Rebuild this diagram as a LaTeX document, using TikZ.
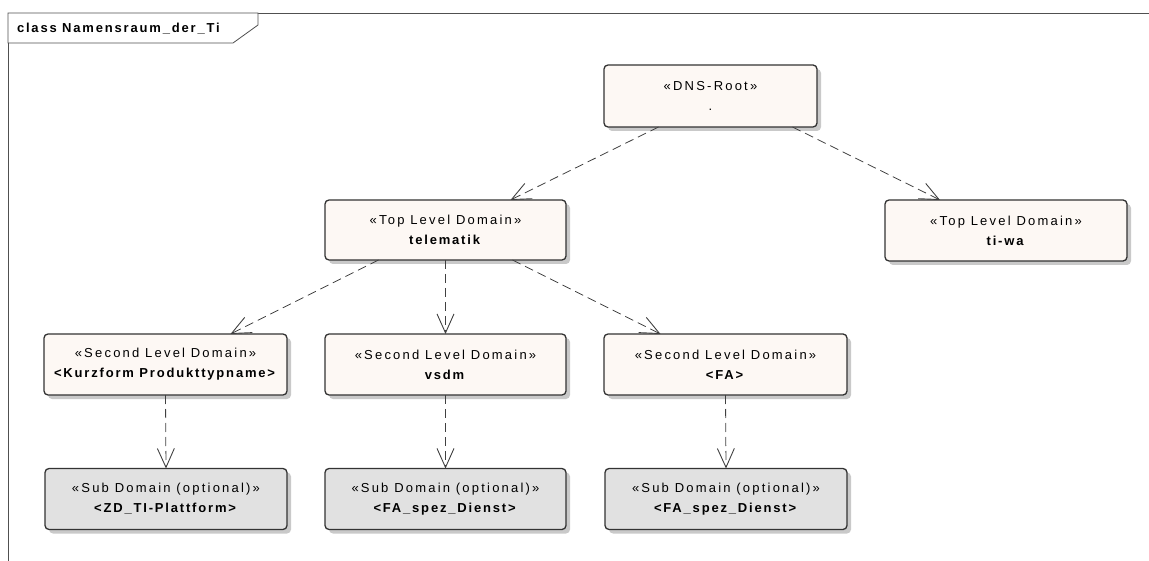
\documentclass[tikz,border=0pt]{standalone}
\usepackage{fontspec}
\newfontfamily\umlfont[LetterSpace=17,BoldFeatures={LetterSpace=14}]{Liberation Sans}
\usetikzlibrary{arrows.meta,shadows}
\definecolor{domfill}{HTML}{FDF8F4}
\definecolor{subfill}{HTML}{E1E1E1}
\definecolor{framegray}{HTML}{505050}
\begin{document}
\begin{tikzpicture}[x=1pt,y=-1pt,inner sep=0pt,outer sep=0pt,
domblock/.style={draw=black!80,fill=domfill,rectangle,rounded corners=4pt,line width=1.3pt,
  minimum width=242pt,minimum height=61pt,align=center,
  font=\fontsize{13}{20}\selectfont\umlfont,
  drop shadow={shadow xshift=4pt,shadow yshift=-4pt,fill=black!30,opacity=0.7}},
subblock/.style={domblock,fill=subfill},
dep/.style={draw=black!75,line width=0.8pt,dash pattern=on 9pt off 5pt,
  -{Straight Barb[length=19pt,width=17pt,line width=0.9pt]}}]
\useasboundingbox (0,0) rectangle (1149,561);
% frame
\draw[framegray,line width=0.8pt] (8,561) -- (8,13) -- (1149,13);
\draw[framegray,line width=0.8pt,fill=white] (8,13) -- (258,13) -- (258,25) -- (233,43) -- (8,43) -- cycle;
\node[anchor=base west,font=\fontsize{13}{14}\selectfont\umlfont\addfontfeature{LetterSpace=12}\bfseries] (title) at (17,33) {class Namensraum\_der\_Ti};
% root and top level
\node[domblock,minimum width=213pt,minimum height=62pt] (dns) at (710.5,96) {«DNS-Root»\\ .};
\node[domblock,minimum width=241pt,minimum height=60pt] (tldtelematik) at (445.5,230) {«Top Level Domain»\\ \textbf{telematik}};
\node[domblock] (tldtiwa) at (1006,230.5) {«Top Level Domain»\\ \textbf{ti-wa}};
% second level
\node[domblock,minimum width=243pt] (sldkurz) at (165.5,364.5) {«Second Level Domain»\\ \textbf{<Kurzform Produkttypname>}};
\node[domblock,minimum width=241pt] (sldvsdm) at (445.5,364.5) {«Second Level Domain»\\ \textbf{vsdm}};
\node[domblock,minimum width=243pt] (sldfa) at (725.5,364.5) {«Second Level Domain»\\ \textbf{<FA>}};
% sub domains
\node[subblock] (subzd) at (166,499) {«Sub Domain (optional)»\\ \textbf{<ZD\_TI-Plattform>}};
\node[subblock,minimum width=241pt] (subvsdm) at (445.5,499) {«Sub Domain (optional)»\\ \textbf{<FA\_spez\_Dienst>}};
\node[subblock] (subfa) at (726,499) {«Sub Domain (optional)»\\ \textbf{<FA\_spez\_Dienst>}};
% dependencies
\draw[dep] ([xshift=-52pt]dns.south) -- ([xshift=65pt]tldtelematik.north);
\draw[dep] ([xshift=82pt]dns.south) -- ([xshift=-66pt]tldtiwa.north);
\draw[dep] ([xshift=-67pt]tldtelematik.south) -- ([xshift=65pt]sldkurz.north);
\draw[dep] (tldtelematik.south) -- (sldvsdm.north);
\draw[dep] ([xshift=67pt]tldtelematik.south) -- ([xshift=-65pt]sldfa.north);
\draw[dep] (sldkurz.south) -- (subzd.north);
\draw[dep] (sldvsdm.south) -- (subvsdm.north);
\draw[dep] (sldfa.south) -- (subfa.north);
\end{tikzpicture}
\end{document}
